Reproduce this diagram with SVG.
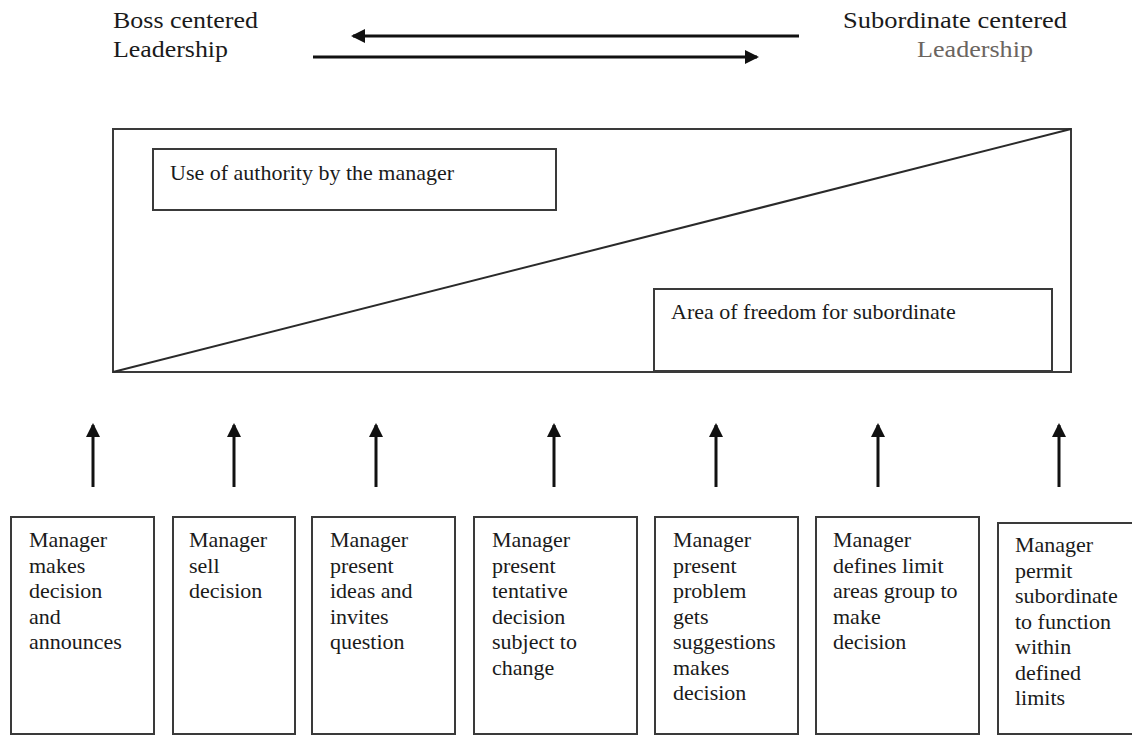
<svg xmlns="http://www.w3.org/2000/svg" width="1132" height="735" viewBox="0 0 1132 735">
  <style>
    .txt { font-family: 'Liberation Serif', 'DejaVu Serif', serif; font-size: 22px; fill: #1a1a1a; }
    .head { font-family: 'Liberation Serif', 'DejaVu Serif', serif; font-size: 23px; fill: #1a1a1a; }
    .box { fill: #ffffff; stroke: #3a3a3a; stroke-width: 2; }
    .edge { fill: none; stroke: #111111; stroke-width: 3; }
  </style>
  <defs>
    <marker id="head" viewBox="0 0 14 14" refX="12" refY="7" markerWidth="14" markerHeight="14" markerUnits="userSpaceOnUse" orient="auto">
      <path d="M0,0 L14,7 L0,14 Z" fill="#111111"/>
    </marker>
  </defs>
  <rect width="1132" height="735" fill="#ffffff"/>

  <!-- continuum end labels -->
  <g id="boss-label">
    <text class="head" x="113" y="28" textLength="145" lengthAdjust="spacingAndGlyphs">Boss centered</text>
    <text class="head" x="113" y="57" textLength="115" lengthAdjust="spacingAndGlyphs">Leadership</text>
  </g>
  <g id="subordinate-label">
    <text class="head" x="843" y="28" textLength="224" lengthAdjust="spacingAndGlyphs">Subordinate centered</text>
    <text class="head" x="917" y="57" textLength="116" lengthAdjust="spacingAndGlyphs" style="fill:#6b655f">Leadership</text>
  </g>

  <!-- authority / freedom panel -->
  <g id="panel">
    <rect class="box" x="113" y="129" width="958" height="243"/>
    <line x1="113" y1="372" x2="1071" y2="129" stroke="#2a2a2a" stroke-width="2"/>
  </g>
  <g id="authority">
    <rect class="box" x="153" y="149" width="403" height="61"/>
    <text class="txt" x="170" y="180">Use of authority by the manager</text>
  </g>
  <g id="freedom">
    <rect class="box" x="654" y="289" width="398" height="82"/>
    <text class="txt" x="671" y="319">Area of freedom for subordinate</text>
  </g>

  <!-- connectors -->
  <g id="connectors">
    <line class="edge" x1="799" y1="36" x2="353" y2="36" marker-end="url(#head)"/>
    <line class="edge" x1="313" y1="57" x2="757" y2="57" marker-end="url(#head)"/>
    <line class="edge" x1="93" y1="487" x2="93" y2="425" marker-end="url(#head)"/>
    <line class="edge" x1="234" y1="487" x2="234" y2="425" marker-end="url(#head)"/>
    <line class="edge" x1="376" y1="487" x2="376" y2="425" marker-end="url(#head)"/>
    <line class="edge" x1="554" y1="487" x2="554" y2="425" marker-end="url(#head)"/>
    <line class="edge" x1="716" y1="487" x2="716" y2="425" marker-end="url(#head)"/>
    <line class="edge" x1="878" y1="487" x2="878" y2="425" marker-end="url(#head)"/>
    <line class="edge" x1="1059" y1="487" x2="1059" y2="425" marker-end="url(#head)"/>
  </g>

  <!-- behaviour boxes -->
  <g id="b1">
    <rect class="box" x="11" y="517" width="143" height="217"/>
    <text class="txt" x="29" y="547">Manager</text>
    <text class="txt" x="29" y="572.5">makes</text>
    <text class="txt" x="29" y="598">decision</text>
    <text class="txt" x="29" y="623.5">and</text>
    <text class="txt" x="29" y="649">announces</text>
  </g>
  <g id="b2">
    <rect class="box" x="173" y="517" width="122" height="217"/>
    <text class="txt" x="189" y="547">Manager</text>
    <text class="txt" x="189" y="572.5">sell</text>
    <text class="txt" x="189" y="598">decision</text>
  </g>
  <g id="b3">
    <rect class="box" x="312" y="517" width="143" height="217"/>
    <text class="txt" x="330" y="547">Manager</text>
    <text class="txt" x="330" y="572.5">present</text>
    <text class="txt" x="330" y="598">ideas and</text>
    <text class="txt" x="330" y="623.5">invites</text>
    <text class="txt" x="330" y="649">question</text>
  </g>
  <g id="b4">
    <rect class="box" x="474" y="517" width="163" height="217"/>
    <text class="txt" x="492" y="547">Manager</text>
    <text class="txt" x="492" y="572.5">present</text>
    <text class="txt" x="492" y="598">tentative</text>
    <text class="txt" x="492" y="623.5">decision</text>
    <text class="txt" x="492" y="649">subject to</text>
    <text class="txt" x="492" y="674.5">change</text>
  </g>
  <g id="b5">
    <rect class="box" x="655" y="517" width="143" height="217"/>
    <text class="txt" x="673" y="547">Manager</text>
    <text class="txt" x="673" y="572.5">present</text>
    <text class="txt" x="673" y="598">problem</text>
    <text class="txt" x="673" y="623.5">gets</text>
    <text class="txt" x="673" y="649">suggestions</text>
    <text class="txt" x="673" y="674.5">makes</text>
    <text class="txt" x="673" y="700">decision</text>
  </g>
  <g id="b6">
    <rect class="box" x="816" y="517" width="163" height="217"/>
    <text class="txt" x="833" y="547">Manager</text>
    <text class="txt" x="833" y="572.5">defines limit</text>
    <text class="txt" x="833" y="598">areas group to</text>
    <text class="txt" x="833" y="623.5">make</text>
    <text class="txt" x="833" y="649">decision</text>
  </g>
  <g id="b7">
    <rect class="box" x="998" y="523" width="140" height="211"/>
    <text class="txt" x="1015" y="552">Manager</text>
    <text class="txt" x="1015" y="577.5">permit</text>
    <text class="txt" x="1015" y="603">subordinate</text>
    <text class="txt" x="1015" y="628.5">to function</text>
    <text class="txt" x="1015" y="654">within</text>
    <text class="txt" x="1015" y="679.5">defined</text>
    <text class="txt" x="1015" y="705">limits</text>
  </g>
</svg>
